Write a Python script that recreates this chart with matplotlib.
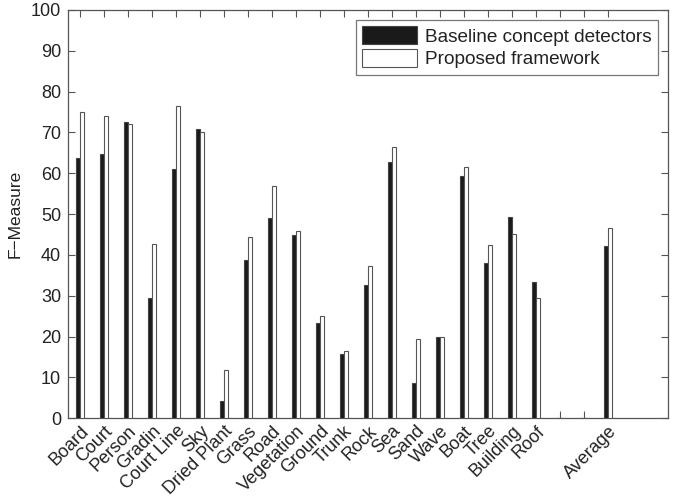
import matplotlib
matplotlib.use("Agg")
import matplotlib.pyplot as plt
import numpy as np

plt.rcParams['font.family'] = ['Liberation Sans', 'DejaVu Sans']

categories = ["Board", "Court", "Person", "Gradin", "Court Line", "Sky", "Dried Plant",
              "Grass", "Road", "Vegetation", "Ground", "Trunk", "Rock", "Sea", "Sand",
              "Wave", "Boat", "Tree", "Building", "Roof", "", "", "Average"]
baseline = [63.7, 64.7, 72.6, 29.4, 61.1, 70.9, 4.2, 38.8, 49.1, 44.9, 23.4, 15.7, 32.6,
            62.7, 8.6, 19.9, 59.3, 38.0, 49.3, 33.3, 0, 0, 42.2]
proposed = [74.9, 74.0, 72.2, 42.6, 76.6, 70.0, 11.8, 44.3, 56.9, 45.9, 25.1, 16.4, 37.4,
            66.4, 19.4, 19.9, 61.6, 42.4, 45.2, 29.4, 0, 0, 46.6]

fig = plt.figure(figsize=(6.77, 5.0), dpi=100)
ax = fig.add_axes([0.1005, 0.1634, 0.886, 0.8166])

x = np.arange(1, len(categories) + 1)
w = 0.18
axcol = '#555555'
ax.bar(x - w / 2, baseline, width=w, color='#1a1a1a', edgecolor='#444444', linewidth=0.8,
       label='Baseline concept detectors', zorder=3)
ax.bar(x + w / 2, proposed, width=w, color='white', edgecolor='#555555', linewidth=0.8,
       label='Proposed framework', zorder=3)

ax.set_xlim(0.5, 25.5)
ax.set_ylim(0, 100)
ax.set_yticks(np.arange(0, 101, 10))
ax.set_xticks(x)
ax.set_xticklabels(categories, rotation=45, ha='right', va='top', rotation_mode='anchor',
                   fontsize=13, color='#222222')
ax.tick_params(axis='y', labelsize=13, labelcolor='#222222', pad=5)
ax.tick_params(direction='in', top=True, right=True, length=5, color=axcol, width=0.8)
ax.tick_params(axis='x', pad=3)
for s in ax.spines.values():
    s.set_color(axcol)
    s.set_linewidth(0.9)
ax.set_ylabel('F\u2212Measure', fontsize=12.5, color='#222222', labelpad=6)

leg = ax.legend(loc='upper right', fontsize=13.7, frameon=True, fancybox=False,
                edgecolor=axcol, handlelength=2.9, handleheight=1.1,
                borderaxespad=0.5, borderpad=0.35, labelspacing=0.15, handletextpad=0.4)
leg.get_frame().set_linewidth(0.9)
for t in leg.get_texts():
    t.set_color('#222222')

fig.savefig('out.png', dpi=100)
